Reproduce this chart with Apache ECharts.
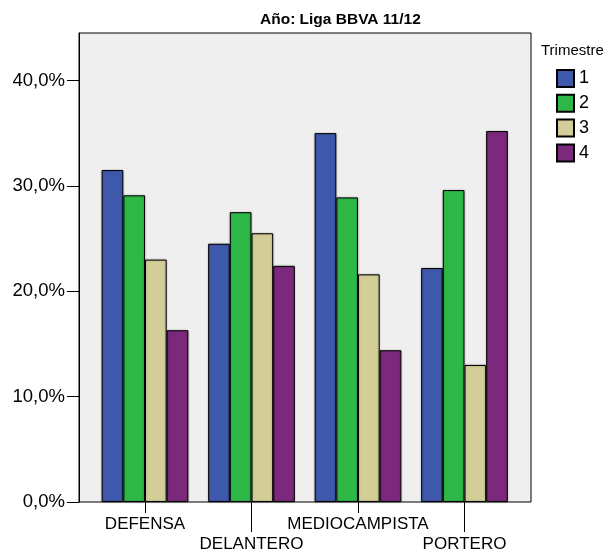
<!DOCTYPE html>
<html>
<head>
<meta charset="utf-8">
<script src="https://cdn.jsdelivr.net/npm/echarts@6/dist/echarts.min.js"></script>
<style>html,body{margin:0;padding:0;background:#fff}#c{width:606px;height:549px}</style>
</head>
<body>
<div id="c"></div>
<script>
const categories = ['DEFENSA', 'DELANTERO', 'MEDIOCAMPISTA', 'PORTERO'];
const seriesNames = ['1', '2', '3', '4'];
const trimestre1 = [31.5, 24.5, 35.0, 22.2];
const trimestre2 = [29.1, 27.5, 28.9, 29.6];
const trimestre3 = [23.0, 25.5, 21.6, 13.0];
const trimestre4 = [16.3, 22.4, 14.4, 35.2];
const yTicks = [0, 10, 20, 30, 40];
const colors = ['#3e58ac', '#2eb848', '#d3ce97', '#7c287d'];

const font = 'Liberation Sans, Arial, sans-serif';
const YMAX = 44.5;
const values = [trimestre1, trimestre2, trimestre3, trimestre4];

const chart = echarts.init(document.getElementById('c'), null, {renderer: 'canvas'});
chart.setOption({
  animation: false,
  backgroundColor: '#ffffff',
  textStyle: {fontFamily: font},
  title: [
    {text: 'Año: Liga BBVA 11/12', left: 255, top: 7,
     textStyle: {fontFamily: font, fontSize: 15.5, fontWeight: 'bold', color: '#000'}},
    {text: 'Trimestre', left: 536, top: 38,
     textStyle: {fontFamily: font, fontSize: 15, fontWeight: 'normal', color: '#000'}}
  ],
  legend: {
    orient: 'vertical', left: 551, top: 64,
    itemWidth: 17, itemHeight: 17, itemGap: 5.8, icon: 'rect',
    textStyle: {fontFamily: font, fontSize: 18, color: '#000'},
    data: seriesNames
  },
  grid: [
    {left: 79, right: 75, top: 33, bottom: 47, show: true, outerBoundsMode: 'none',
     backgroundColor: '#efefef', borderColor: '#000', borderWidth: 1},
    {left: 91.75, right: 88.25, top: 33, bottom: 47, outerBoundsMode: 'none'}
  ],
  xAxis: [
    {gridIndex: 0, type: 'category', data: categories, show: false},
    {gridIndex: 1, type: 'category', data: categories,
     axisLine: {show: false},
     axisTick: {show: true, alignWithLabel: true, length: 11,
       interval: (i) => i % 2 === 0, lineStyle: {color: '#000', width: 1}},
     axisLabel: {interval: 0, margin: 13, fontFamily: font, fontSize: 17, color: '#000',
       lineHeight: 19.5,
       formatter: (v, i) => (i % 2 === 1 ? '\n' + v : v)}},
    {gridIndex: 1, type: 'category', data: categories, position: 'bottom',
     axisLine: {show: false},
     axisTick: {show: true, alignWithLabel: true, length: 30,
       interval: (i) => i % 2 === 1, lineStyle: {color: '#000', width: 1}},
     axisLabel: {show: false}}
  ],
  yAxis: [
    {gridIndex: 0, type: 'value', min: 0, max: YMAX, interval: 10,
     splitLine: {show: false},
     axisLine: {show: true, lineStyle: {color: '#000', width: 1}},
     axisTick: {show: true, length: 12, customValues: yTicks, lineStyle: {color: '#000', width: 1}},
     axisLabel: {margin: 14, fontFamily: font, fontSize: 18.5, color: '#000',
       customValues: yTicks,
       formatter: (v) => v.toFixed(1).replace('.', ',') + '%'}},
    {gridIndex: 1, type: 'value', min: 0, max: YMAX, show: false, splitLine: {show: false}}
  ],
  series: seriesNames.map((n, k) => ({
    name: n, type: 'bar', xAxisIndex: 1, yAxisIndex: 1,
    data: values[k],
    barGap: '0%', barCategoryGap: '18.6%',
    itemStyle: {color: colors[k], borderColor: '#000', borderWidth: 1,
      shadowColor: 'rgba(0,0,0,0.3)', shadowBlur: 2}
  }))
});
</script>
</body>
</html>
